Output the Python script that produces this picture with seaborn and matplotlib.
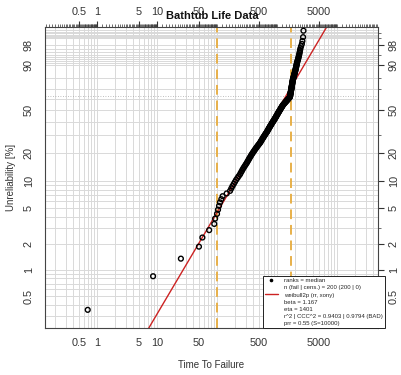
import matplotlib
matplotlib.use("Agg")
import matplotlib.pyplot as plt
from matplotlib.lines import Line2D
import numpy as np
import pandas as pd
import seaborn as sns

# failure times (sorted)
early_times = [0.7, 8.6, 25, 50, 57, 74, 90, 93, 100, 104, 108, 112, 118, 124, 145, 165,
               173, 181, 190, 199, 208, 219, 229, 241,
               249, 258, 266, 275, 285, 295, 305, 316]
mid_times = [324, 333, 342, 351, 361, 370, 380, 390, 401, 412, 423, 434, 446, 458, 470, 483,
             496, 509, 523,
             533, 543, 553, 564, 575, 586, 597, 608, 620, 631, 643, 656, 668, 681,
             691, 702, 712, 723, 734, 745, 756, 767, 779, 791, 803, 815, 827, 839, 852, 865,
             878, 891, 904, 918, 931,
             943, 955, 967, 979, 991, 1004, 1017, 1030, 1043, 1056, 1069, 1083, 1096, 1110,
             1124, 1138, 1153, 1167, 1182, 1197, 1212, 1228, 1243, 1259]
late_times = [1281, 1304, 1327, 1350, 1374, 1399, 1423, 1449, 1474, 1500, 1527, 1554, 1581,
              1609, 1637,
              1643, 1649, 1655, 1661, 1666, 1672, 1678, 1684, 1690, 1696, 1702, 1708, 1714,
              1720, 1726, 1732, 1738, 1744, 1750, 1756, 1762, 1768, 1774, 1781, 1787, 1793,
              1799, 1806, 1812, 1818, 1824, 1831, 1837,
              1849, 1860, 1872, 1884, 1896, 1908, 1920, 1933, 1945, 1958, 1970, 1983, 1996,
              2008, 2021, 2034, 2047, 2060, 2074, 2087, 2100, 2114, 2127, 2141, 2154,
              2177, 2201, 2225, 2249, 2274, 2298, 2323, 2349, 2374, 2400, 2427,
              2460, 2520, 2600, 2650, 2720, 2760]

beta = 1.167
eta = 1401
region_bounds = [100, 1700]

x_tick_vals = [0.5, 1, 5, 10, 50, 500, 5000]
x_tick_labels = ["0.5", "1", "5", "10", "50", "500", "5000"]
y_tick_vals = [0.5, 1, 2, 5, 10, 20, 50, 90, 98]
y_tick_labels = ["0.5", "1", "2", "5", "10", "20", "50", "90", "98"]

legend_labels = [
    "ranks = median",
    "n (fail | cens.) = 200 (200 | 0)",
    "weibull2p (rr, xony)",
    "beta = 1.167",
    "eta = 1401",
    "r^2 | CCC^2 = 0.9403 | 0.9794 (BAD)",
    "prr = 0.55 (S=10000)",
]

times = np.array(early_times + mid_times + late_times, dtype=float)
n = len(times)
ranks = np.arange(1, n + 1)
df = pd.DataFrame({"time": times, "unrel": (ranks - 0.3) / (n + 0.4) * 100})


def fwd(p):
    p = np.clip(np.asarray(p, dtype=float), 1e-9, 100 - 1e-9)
    return np.log10(-np.log1p(-p / 100.0))


def inv(y):
    return 100.0 * (1.0 - np.exp(-np.power(10.0, y)))


sns.set_style("white")
plt.rcParams["font.family"] = ["Liberation Sans", "DejaVu Sans"]

fig = plt.figure(figsize=(4.02, 3.75), dpi=100)
ax = fig.add_axes([0.112, 0.1253, 0.828, 0.8027])
ax.set_xscale("log")
ax.set_yscale("function", functions=(fwd, inv))
xlim = (0.136, 48000)
ylim = (0.2161, 99.805)
ax.set_xlim(*xlim)
ax.set_ylim(*ylim)

grid_c = "#d9d9d9"
for d in range(-1, 5):
    for k in range(1, 10):
        v = k * 10.0 ** d
        if xlim[0] < v < xlim[1]:
            ax.axvline(v, color=grid_c, lw=0.7, zorder=0)
h_levels = ([0.3, 0.4, 0.5, 0.6, 0.7, 0.8, 0.9] + list(range(1, 10)) + list(range(10, 91, 10))
            + list(range(91, 100)) + [99.1, 99.2, 99.3, 99.4, 99.5, 99.6, 99.7, 99.8])
for v in h_levels:
    ax.axhline(v, color=grid_c, lw=0.7, zorder=0)
ax.axhline(63.2, color="#aaaaaa", lw=0.6, ls=(0, (1, 2)), zorder=0)

for b in region_bounds:
    ax.axvline(b, color="#e8b04a", lw=1.4, ls=(0, (5, 3)), zorder=1)

# fitted weibull line across the plotted probability range
fit_F = np.array(ylim)
fit_t = eta * (-np.log1p(-fit_F / 100.0)) ** (1.0 / beta)
fit_df = pd.DataFrame({"time": fit_t, "unrel": fit_F})
sns.lineplot(data=fit_df, x="time", y="unrel", color="#cc2222", lw=1.0,
             estimator=None, sort=False, ax=ax, zorder=2)

sns.scatterplot(data=df, x="time", y="unrel", marker="o", s=12, ax=ax, zorder=3)
pts = ax.collections[-1]
pts.set_facecolor("none")
pts.set_edgecolor("black")
pts.set_linewidth(1.0)

# axes, ticks and labels on all four sides
minor_x = []
for d in range(-1, 5):
    for j in range(45):
        v = 10.0 ** d * (1 + 0.2 * j)
        if xlim[0] < v < xlim[1]:
            minor_x.append(v)
ax.set_xticks(x_tick_vals)
ax.set_xticklabels(x_tick_labels)
ax.set_xticks(minor_x, minor=True)
ax.set_xticklabels([], minor=True)
ax.set_yticks(y_tick_vals)
ax.set_yticklabels(y_tick_labels, rotation=90, va="center")
ax.set_yticks([0.3, 3, 30, 70, 80, 95, 99, 99.5], minor=True)
ax.set_yticklabels([], minor=True)

tick_c = "#333333"
ax.tick_params(axis="both", which="major", direction="out", length=4, width=0.8,
               labelsize=7.8, colors=tick_c, top=True, right=True,
               labeltop=True, labelright=True)
ax.tick_params(axis="both", which="minor", direction="out", length=2.2, width=0.5,
               colors=tick_c, top=True, right=True)
ax.tick_params(axis="x", which="major", pad=3)
ax.tick_params(axis="y", which="major", pad=4)
for s in ax.spines.values():
    s.set_color("#444444")
    s.set_linewidth(0.8)

ax.set_xlabel("Time To Failure", fontsize=7, color=tick_c, labelpad=9)
ax.set_ylabel("Unreliability [%]", fontsize=7, color=tick_c, labelpad=6)
fig.text(0.527, 0.958, "Bathtub Life Data", ha="center", va="center",
         fontsize=8, fontweight="bold", color="#111111")

handles = [Line2D([], [], marker="o", ls="", color="black", markersize=1.6),
           Line2D([], [], ls="")]
handles += [Line2D([], [], color="#cc2222", lw=1.0)]
handles += [Line2D([], [], ls="") for _ in legend_labels[3:]]
leg = ax.legend(handles, legend_labels, loc="lower right", bbox_to_anchor=(1.021, 0.0),
                borderaxespad=0, fontsize=4.3, frameon=True, fancybox=False,
                edgecolor="#222222", framealpha=1, handlelength=2.2, handletextpad=1.0,
                labelspacing=0.32, borderpad=0.35)
leg.get_frame().set_linewidth(0.7)
leg.set_zorder(5)

fig.savefig("out.png", dpi=100)
plt.close(fig)
